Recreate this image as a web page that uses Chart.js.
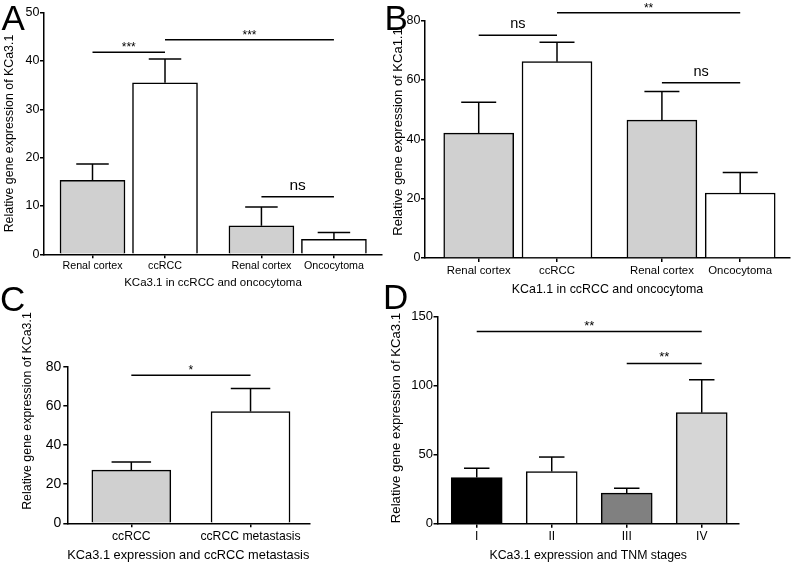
<!DOCTYPE html>
<html><head><meta charset="utf-8">
<script src="https://cdn.jsdelivr.net/npm/chart.js@4/dist/chart.umd.min.js"></script>
<style>
html,body{margin:0;padding:0;background:#fff;}
#wrap{position:relative;width:793px;height:564px;overflow:hidden;background:#fff;}
#wrap canvas{position:absolute;left:0;top:0;}
</style></head><body>
<div id="wrap">
<canvas id="cA" width="793" height="564"></canvas>
<canvas id="cB" width="793" height="564"></canvas>
<canvas id="cC" width="793" height="564"></canvas>
<canvas id="cD" width="793" height="564"></canvas>
</div>
<script>
// ---------- DATA ----------
// Panel A: KCa3.1 in ccRCC and oncocytoma
const catsA = ['Renal cortex', 'ccRCC', 'Renal cortex', 'Oncocytoma'];
const groupA = [0, 0, 1, 1];
const meanA = [15.3, 35.5, 5.9, 3.1];
const semA  = [3.4, 4.9, 3.9, 1.4];
const sigA  = [{a: 0, b: 1, y: 41.8, t: '***'}, {a: 1, b: 3, y: 44.4, t: '***'}, {a: 2, b: 3, y: 11.9, t: 'ns'}];

// Panel B: KCa1.1 in ccRCC and oncocytoma
const catsB = ['Renal cortex', 'ccRCC', 'Renal cortex', 'Oncocytoma'];
const groupB = [0, 0, 1, 1];
const meanB = [42.1, 66.2, 46.5, 21.9];
const semB  = [10.4, 6.5, 9.6, 6.9];
const sigB  = [{a: 0, b: 1, y: 75.1, t: 'ns'}, {a: 1, b: 3, y: 82.7, t: '**'}, {a: 2, b: 3, y: 59.1, t: 'ns'}];

// Panel C: KCa3.1 expression and ccRCC metastasis
const catsC = ['ccRCC', 'ccRCC metastasis'];
const groupC = [0, 0];
const meanC = [27.2, 57.1];
const semC  = [4.1, 11.7];
const sigC  = [{a: 0, b: 1, y: 75.6, t: '*'}];

// Panel D: KCa3.1 expression and TNM stages
const catsD = ['I', 'II', 'III', 'IV'];
const groupD = [0, 0, 0, 0];
const meanD = [33.5, 37.8, 22.1, 80.5];
const semD  = [6.7, 10.5, 3.6, 23.8];
const sigD  = [{a: 0, b: 3, y: 139.2, t: '**'}, {a: 2, b: 3, y: 116.1, t: '**'}];

// ---------- RENDERING ----------
const FONT = "'Liberation Sans', Arial, Helvetica, sans-serif";
const W = 793, H = 564, XH = 40;
const GREY = '#d0d0d0', WHITE = '#ffffff';

function makePanel(id, d, s) {
  const xs = d.cats.map((_, i) => i + d.groups[i] * s.gap);
  const overlay = {
    id: 'overlay_' + id,
    afterDraw(chart) {
      const ctx = chart.ctx, xS = chart.scales.x, yS = chart.scales.y;
      ctx.save();
      ctx.strokeStyle = '#000'; ctx.fillStyle = '#000'; ctx.lineWidth = 1.5; ctx.lineCap = 'butt';
      const line = (x1, y1, x2, y2) => { ctx.beginPath(); ctx.moveTo(x1, y1); ctx.lineTo(x2, y2); ctx.stroke(); };
      // error bars (upper)
      d.means.forEach((m, i) => {
        const px = xS.getPixelForValue(xs[i]);
        const y0 = yS.getPixelForValue(m), y1 = yS.getPixelForValue(m + d.sem[i]);
        const half = s.barW * 0.25;
        line(px, y0, px, y1);
        line(px - half, y1, px + half, y1);
      });
      // significance brackets
      d.sig.forEach(g => {
        const xa = xS.getPixelForValue(xs[g.a]), xb = xS.getPixelForValue(xs[g.b]);
        const y = yS.getPixelForValue(g.y);
        line(xa, y, xb, y);
        ctx.textAlign = 'center'; ctx.textBaseline = 'alphabetic';
        if (g.t === 'ns') {
          ctx.font = s.nsF + 'px ' + FONT;
          ctx.fillText(g.t, (xa + xb) / 2, y - 7);
        } else {
          ctx.font = s.starF + 'px ' + FONT;
          ctx.fillText(g.t, (xa + xb) / 2, y - s.starOff);
        }
      });
      // y axis title
      ctx.save();
      ctx.translate(s.ytX, s.ytY);
      ctx.rotate(-Math.PI / 2);
      ctx.font = s.ytF + 'px ' + FONT;
      ctx.textAlign = 'center'; ctx.textBaseline = 'middle';
      ctx.fillText(d.ytitle, 0, 0);
      ctx.restore();
      // panel letter
      ctx.font = '35px ' + FONT;
      ctx.textAlign = 'left'; ctx.textBaseline = 'alphabetic';
      ctx.fillText(s.letter, s.letX, s.letY);
      ctx.restore();
    }
  };
  const tickGrid = {display: true, drawOnChartArea: false, drawTicks: true, tickLength: 4, color: '#000', lineWidth: 1.5, offset: false};
  new Chart(document.getElementById(id), {
    type: 'bar',
    data: {
      datasets: [{
        data: d.means.map((v, i) => ({x: xs[i], y: v})),
        backgroundColor: s.colors,
        borderColor: '#000',
        borderWidth: 1.5,
        barThickness: s.barW
      }]
    },
    options: {
      responsive: false, animation: false, devicePixelRatio: 1,
      events: [],
      layout: {padding: {left: s.padL, top: s.area.top, right: W - s.area.right, bottom: H - s.area.bottom - XH}},
      plugins: {legend: {display: false}, tooltip: {enabled: false}},
      scales: {
        x: {
          type: 'linear', min: s.xmin, max: s.xmax, offset: false,
          afterBuildTicks: sc => { sc.ticks = xs.map(v => ({value: v})); },
          afterFit: sc => { sc.height = XH; },
          ticks: {autoSkip: false, maxRotation: 0, minRotation: 0, padding: s.xtp, color: '#000',
                  font: {family: FONT, size: s.xtf}, callback: (v, i) => d.cats[i]},
          grid: tickGrid,
          border: {display: true, color: '#000', width: 1.5},
          title: {display: true, text: d.xtitle, color: '#000', font: {family: FONT, size: s.xtitleF},
                  padding: {top: 0, bottom: s.xtitlePB}}
        },
        y: {
          min: 0, max: d.ymax,
          afterFit: sc => { sc.width = s.area.left - s.padL; },
          ticks: {stepSize: d.ystep, padding: s.ytp, color: '#000', font: {family: FONT, size: s.ytf}},
          grid: tickGrid,
          border: {display: true, color: '#000', width: 1.5}
        }
      }
    },
    plugins: [overlay]
  });
}

makePanel('cA',
  {cats: catsA, groups: groupA, means: meanA, sem: semA, sig: sigA, ymax: 50, ystep: 10,
   xtitle: 'KCa3.1 in ccRCC and oncocytoma', ytitle: 'Relative gene expression of KCa3.1'},
  {area: {left: 44, top: 12.7, right: 382, bottom: 254.3}, padL: 0, gap: 0.33, xmin: -0.669, xmax: 3.993,
   barW: 65, colors: [GREY, WHITE, GREY, WHITE], xtf: 10.7, xtp: 1.3, xtitleF: 11.5, xtitlePB: 4.4,
   ytf: 12.5, ytp: 0.5, ytX: 10, ytY: 133.5, ytF: 12.4, nsF: 15.5, starF: 12, starOff: 1,
   letter: 'A', letX: 1.5, letY: 30});

makePanel('cB',
  {cats: catsB, groups: groupB, means: meanB, sem: semB, sig: sigB, ymax: 80, ystep: 20,
   xtitle: 'KCa1.1 in ccRCC and oncocytoma', ytitle: 'Relative gene expression of KCa1.1'},
  {area: {left: 425, top: 20.7, right: 790, bottom: 258}, padL: 390, gap: 0.34, xmin: -0.686, xmax: 3.976,
   barW: 70, colors: [GREY, WHITE, GREY, WHITE], xtf: 11.4, xtp: 1.9, xtitleF: 12.4, xtitlePB: 0.6,
   ytf: 12.5, ytp: 0.5, ytX: 398.5, ytY: 132, ytF: 13, nsF: 14.5, starF: 12, starOff: 1,
   letter: 'B', letX: 384.5, letY: 30});

makePanel('cC',
  {cats: catsC, groups: groupC, means: meanC, sem: semC, sig: sigC, ymax: 80, ystep: 20,
   xtitle: 'KCa3.1 expression and ccRCC metastasis', ytitle: 'Relative gene expression of KCa3.1'},
  {area: {left: 67.3, top: 366.7, right: 309.3, bottom: 523.3}, padL: 0, gap: 0, xmin: -0.537, xmax: 1.493,
   barW: 79, colors: [GREY, WHITE], xtf: 12.2, xtp: 2.1, xtitleF: 13, xtitlePB: 0.5,
   ytf: 14, ytp: 2, ytX: 27.7, ytY: 411, ytF: 12.4, nsF: 15, starF: 12, starOff: 1.5,
   letter: 'C', letX: 0, letY: 311});

makePanel('cD',
  {cats: catsD, groups: groupD, means: meanD, sem: semD, sig: sigD, ymax: 150, ystep: 50,
   xtitle: 'KCa3.1 expression and TNM stages', ytitle: 'Relative gene expression of KCa3.1'},
  {area: {left: 437.5, top: 316.7, right: 739, bottom: 523.7}, padL: 390, gap: 0, xmin: -0.523, xmax: 3.497,
   barW: 51, colors: ['#000000', WHITE, '#808080', '#d6d6d6'], xtf: 12, xtp: 1.8, xtitleF: 12.3, xtitlePB: 0.3,
   ytf: 13, ytp: 0.5, ytX: 396.7, ytY: 418, ytF: 13.2, nsF: 15, starF: 13, starOff: 2,
   letter: 'D', letX: 383, letY: 309});
</script>
</body></html>
